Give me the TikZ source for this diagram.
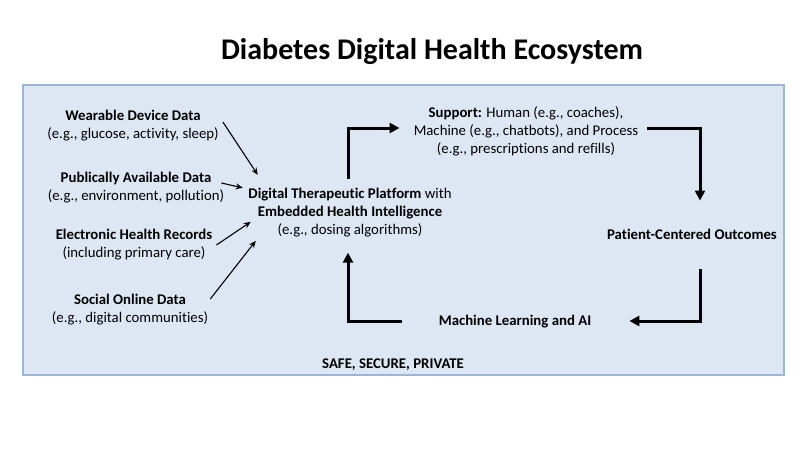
\documentclass[tikz,border=0pt]{standalone}
\usepackage{fontspec}
\setmainfont{Carlito}[Ligatures=NoCommon]
\usetikzlibrary{arrows.meta}
\definecolor{panelfill}{HTML}{DDE7F3}
\definecolor{panelline}{HTML}{9DB5D6}
\begin{document}
\begin{tikzpicture}[x=1pt,y=-1pt,
  txt/.style={align=center, font=\fontsize{14.8}{18}\selectfont, inner sep=2pt},
  feedarrow/.style={-{Stealth[length=7pt,width=6pt]}, line width=1.1pt},
  bigarrow/.style={-{Triangle[length=10pt,width=10pt]}, line width=3pt}]
\useasboundingbox (0,0) rectangle (800,450);
\fill[white] (0,0) rectangle (800,450);
\draw[panelline, fill=panelfill, line width=1.2pt] (23,85) rectangle (784,375);

\node[font=\bfseries\fontsize{30}{34}\selectfont] (title) at (432,52) {Diabetes Digital Health Ecosystem};

\node[txt] (wear) at (133,126) {\textbf{Wearable Device Data}\\(e.g., glucose, activity, sleep)};
\node[txt] (pub) at (136,188) {\textbf{Publically Available Data}\\(e.g., environment, pollution)};
\node[txt] (ehr) at (134,245) {\textbf{Electronic Health Records}\\(including primary care)};
\node[txt] (soc) at (130,310) {\textbf{Social Online Data}\\(e.g., digital communities)};

\node[txt] (plat) at (350,213) {\textbf{Digital Therapeutic Platform} with\\\textbf{Embedded Health Intelligence}\\(e.g., dosing algorithms)};
\node[txt] (sup) at (526,131) {\textbf{Support:} Human (e.g., coaches),\\Machine (e.g., chatbots), and Process\\(e.g., prescriptions and refills)};
\node[txt, font=\bfseries\fontsize{14.8}{18}\selectfont] (pco) at (692,234) {Patient-Centered Outcomes};
\node[txt, font=\bfseries\fontsize{14.8}{18}\selectfont] (ml) at (515,322) {Machine Learning and AI};
\node[txt, font=\bfseries\fontsize{14.8}{18}\selectfont] (safe) at (393,365) {SAFE, SECURE, PRIVATE};

\draw[feedarrow] ([shift={(2,-4)}]wear.east) -- ([shift={(11.5,-11.5)}]plat.north west);
\draw[feedarrow] ([shift={(-5,-5)}]pub.east) -- ([shift={(-3.5,1.5)}]plat.north west);
\draw[feedarrow] ([shift={(2,0)}]ehr.east) -- ([shift={(4.5,35.5)}]plat.north west);
\draw[feedarrow] ([shift={(0,-11)}]soc.east) -- ([shift={(9.5,54.5)}]plat.north west);

\draw[bigarrow] ([shift={(-2,-7)}]plat.north) |- ([shift={(-12,-3)}]sup.west);
\draw[bigarrow] ([shift={(7,-3)}]sup.east) -| ([shift={(8,-26)}]pco.north);
\draw[bigarrow] ([shift={(8,28)}]pco.south) |- ([shift={(36,-1)}]ml.east);
\draw[bigarrow] ([shift={(-35,-1)}]ml.west) -| ([shift={(-2,13)}]plat.south);
\end{tikzpicture}
\end{document}
